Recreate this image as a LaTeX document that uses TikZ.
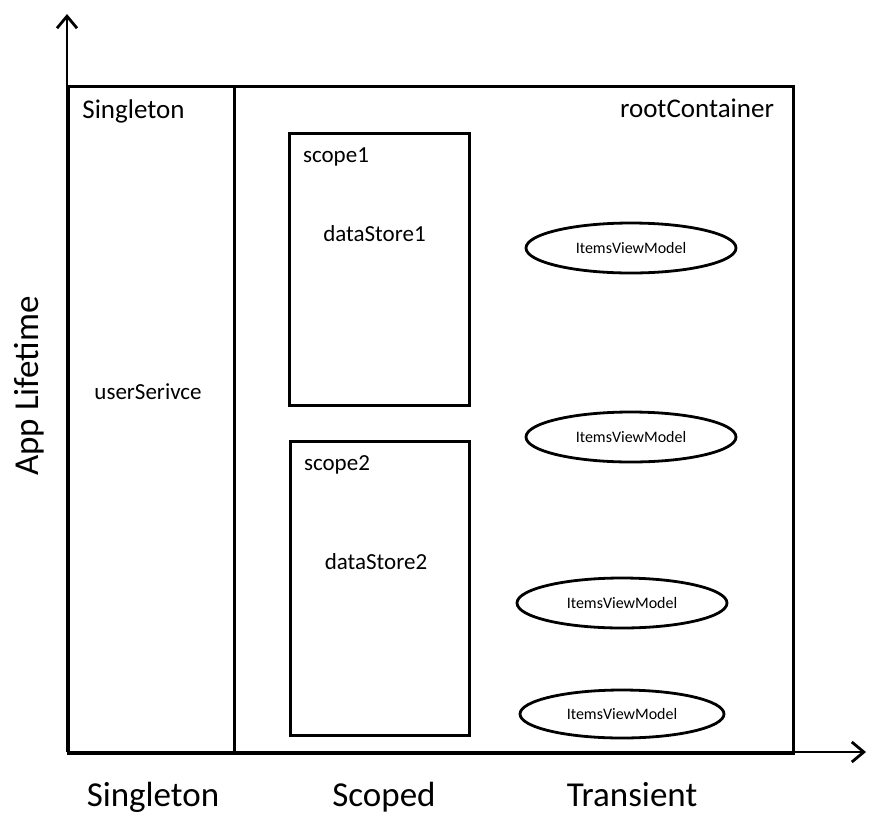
\documentclass[tikz,border=0pt]{standalone}
\usepackage{fontspec}
\setmainfont{Carlito}
\usetikzlibrary{arrows.meta,shapes.geometric}
\tikzset{
  frame/.style={draw, line width=2.8pt, rectangle, inner sep=0pt, anchor=north west},
  obj/.style={draw, line width=2.8pt, ellipse, inner sep=0pt, minimum width=210pt, minimum height=50pt,
              font=\fontsize{16}{19}\selectfont},
  axis/.style={line width=2.8pt, -{Straight Barb[length=12pt,width=20pt]}},
  big/.style={font=\fontsize{35}{42}\selectfont, inner sep=0pt, anchor=base},
  mid/.style={font=\fontsize{27}{32}\selectfont, inner sep=0pt, anchor=base},
  sm/.style={font=\fontsize{23}{28}\selectfont, inner sep=0pt, anchor=base},
}
\begin{document}
\begin{tikzpicture}[x=1pt,y=-1pt]
\useasboundingbox (0,0) rectangle (879,823);
% containers
\node[frame, minimum width=166pt, minimum height=667pt] (single) at (67,85) {};
\node[frame, minimum width=559pt, minimum height=667pt] (root) at (233,85) {};
\node[frame, minimum width=180pt, minimum height=272pt] (scope1) at (288,132) {};
\node[frame, minimum width=179pt, minimum height=294pt] (scope2) at (289,440) {};
% axes
\coordinate (origin) at (67,752);
\coordinate (ytip) at (67,14);
\coordinate (xtip) at (866,752);
\draw[axis] (origin) -- (ytip);
\draw[axis] (origin) -- (xtip);
% labels
\node[mid] (lsingle) at (133.5,118) {Singleton};
\node[mid] (lroot) at (697,117) {rootContainer};
\node[sm] (lscope1) at (336,162) {scope1};
\node[sm] (ds1) at (374.5,241) {dataStore1};
\node[sm] (lscope2) at (337,470) {scope2};
\node[sm] (ds2) at (376,569) {dataStore2};
\node[sm] (user) at (148,399) {userSerivce};
% transient objects
\node[obj] (ivm1) at (631,248) {ItemsViewModel};
\node[obj] (ivm2) at (631,437) {ItemsViewModel};
\node[obj] (ivm3) at (622,603) {ItemsViewModel};
\node[obj, minimum width=204pt, minimum height=48pt] (ivm4) at (622,714) {ItemsViewModel};
% axis labels
\node[big] (xs) at (153,806) {Singleton};
\node[big] (xsc) at (384,806) {Scoped};
\node[big] (xt) at (632,806) {Transient};
\node[big, rotate=90] (ylab) at (38,386) {App Lifetime};
\end{tikzpicture}
\end{document}
